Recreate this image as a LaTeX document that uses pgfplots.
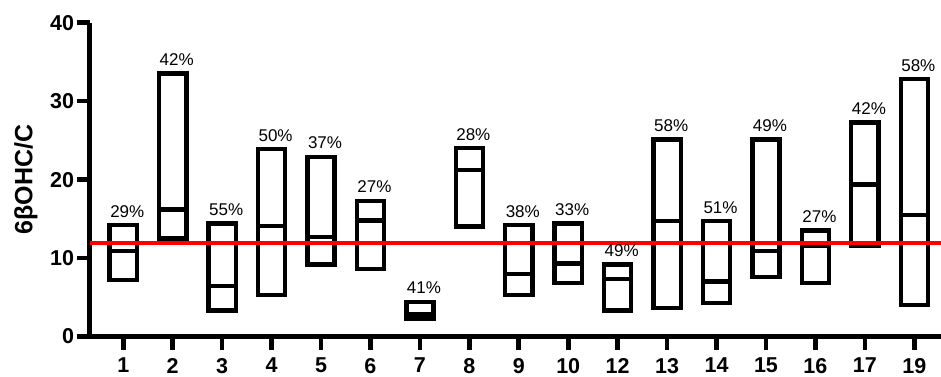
\documentclass[border=0pt]{standalone}
\usepackage{pgfplots}
\usepackage{pgfplotstable}
\pgfplotsset{compat=1.18}
\usepgfplotslibrary{statistics}
\usepackage{fontspec}
\setmainfont{Liberation Sans}
\setsansfont{Liberation Sans}

% per-sample ranges: minimum, median, maximum and relative spread (%)
\pgfplotstableread{
i  lo    med   hi    pct
0  7.2   10.9  14.2  29
1  12.5  16.2  33.5  42
2  3.3   6.4   14.4  55
3  5.3   14.1  23.9  50
4  9.2   12.7  22.9  37
5  8.6   14.8  17.3  27
6  2.3   2.9   4.4   41
7  14.0  21.2  24.0  28
8  5.3   8.0   14.2  38
9  6.8   9.3   14.4  33
10 3.3   7.3   9.2   49
11 3.6   14.7  25.1  58
12 4.3   7.0   14.7  51
13 7.6   10.9  25.1  49
14 6.8   11.5  13.5  27
15 11.5  19.4  27.3  42
16 4.0   15.5  32.8  58
}\boxdata

\newcommand\ticfont{\fontsize{21.5}{25}\selectfont\bfseries}

\begin{document}
\begin{tikzpicture}
\begin{axis}[
  name=ax,
  scale only axis,
  width=851pt, height=313.8pt,
  xmin=-0.673, xmax=16.54,
  ymin=0, ymax=40,
  axis lines=left,
  axis line style={line width=5pt, -},
  clip=false,
  xtick={0,...,16},
  xticklabels={1,2,3,4,5,6,7,8,9,10,12,13,14,15,16,17,19},
  ytick={0,10,20,30,40},
  tick align=outside,
  major tick length=13pt,
  tick style={black, line width=4.6pt},
  ticklabel style={font=\ticfont},
  /pgf/number format/assume math mode=true,
  xticklabel style={yshift=-5pt},
  yticklabel style={xshift=0.5pt},
  ylabel={6βOHC/C},
  ylabel style={at={(rel axis cs:0,0.5)}, anchor=center, yshift=64pt,
                font=\fontsize{25}{28}\selectfont\bfseries},
]
% one box per sample: min to max, with the median as a cross line
\pgfplotsinvokeforeach{0,...,16}{
  \pgfplotstablegetelem{#1}{lo}\of\boxdata \edef\vlo{\pgfplotsretval}
  \pgfplotstablegetelem{#1}{med}\of\boxdata \edef\vmed{\pgfplotsretval}
  \pgfplotstablegetelem{#1}{hi}\of\boxdata \edef\vhi{\pgfplotsretval}
  \edef\doplot{\noexpand\addplot[black, line width=4.4pt, line join=miter, solid,
    boxplot/draw direction=y,
    boxplot prepared={draw position=#1, box extend=0.55, whisker extend=0,
      lower whisker=\vlo, lower quartile=\vlo, median=\vmed,
      upper quartile=\vhi, upper whisker=\vhi}]
    coordinates {};}
  \doplot
}
\addplot[draw=none, mark=none,
  nodes near coords={\pgfplotspointmeta\%},
  point meta=explicit symbolic,
  every node near coord/.append style={anchor=base, inner sep=0pt,
    yshift=8pt, xshift=4pt, text=black,
    font=\fontsize{17}{20}\selectfont}]
  table[x=i, y=hi, meta=pct] {\boxdata};
\addplot[color={rgb,255:red,255;green,0;blue,0}, line width=4.6pt]
  coordinates {(-0.673,11.9) (16.54,11.9)};
\end{axis}
\pgfresetboundingbox
\path (ax.south west) ++(-90pt,-39.5pt) rectangle ++(941pt,376pt);
\end{tikzpicture}
\end{document}
